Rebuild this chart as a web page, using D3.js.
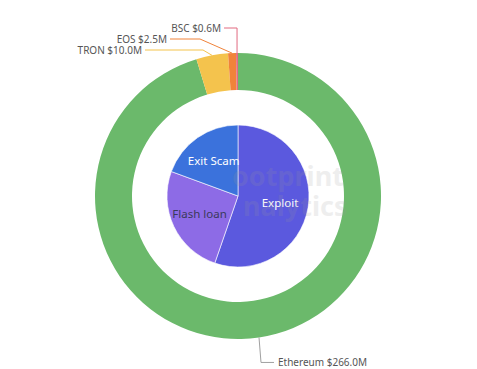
<!DOCTYPE html>
<html>
<head>
<meta charset="utf-8">
<script src="https://cdn.jsdelivr.net/npm/d3@7"></script>
<style>
  body { margin: 0; background: #fff; }
  text { font-family: "Noto Sans", "Open Sans", sans-serif; }
</style>
</head>
<body>
<div class="container"></div>
<script>
// inner pie: loss by attack type (share of total)
const typeNames = ["Exploit", "Flash loan", "Exit Scam"]
const typeValues = [55.3, 25.3, 19.4]
const typeColors = ["#5b59de", "#8d6be6", "#3b72dc"]
const typeTextColors = ["#ffffff", "#3a3a5a", "#ffffff"]

// outer ring: loss by chain ($M)
const chainNames = ["Ethereum", "TRON", "EOS", "BSC"]
const chainValues = [266.0, 10.0, 2.5, 0.6]
const chainColors = ["#6bb96b", "#f4c34d", "#f0833a", "#e26a80"]

const width = 477, height = 369
const cx = 238, cy = 196
const pieR = 71, ringIn = 106, ringOut = 143

const svg = d3.select(".container")
              .append("svg")
              .attr("width", width)
              .attr("height", height)

const g = svg.append("g").attr("transform", `translate(${cx},${cy})`)

const pie = d3.pie().sort(null).value(d => d)

// outer ring
const ringArc = d3.arc().innerRadius(ringIn).outerRadius(ringOut)
const ringData = pie(chainValues)
g.selectAll("path.ring")
  .data(ringData)
  .enter()
  .append("path")
  .attr("class", "ring")
  .attr("d", ringArc)
  .attr("fill", (d, i) => chainColors[i])

// inner pie
const pieArc = d3.arc().innerRadius(0).outerRadius(pieR)
const labelArc = d3.arc().innerRadius(pieR * 0.6).outerRadius(pieR * 0.6)
const pieData = pie(typeValues)
g.selectAll("path.slice")
  .data(pieData)
  .enter()
  .append("path")
  .attr("class", "slice")
  .attr("d", pieArc)
  .attr("fill", (d, i) => typeColors[i])
  .attr("stroke", "#fff")
  .attr("stroke-width", 0.6)

// faint watermark (under the labels)
const wm = svg.append("g").attr("opacity", 0.16).attr("fill", "#999")
wm.append("text").attr("x", 232).attr("y", 186)
  .attr("font-size", 27).attr("font-weight", "bold").text("ootprint")
wm.append("text").attr("x", 243).attr("y", 216)
  .attr("font-size", 27).attr("font-weight", "bold").text("nalytics")

g.selectAll("text.slice-label")
  .data(pieData)
  .enter()
  .append("text")
  .attr("class", "slice-label")
  .attr("transform", d => `translate(${labelArc.centroid(d)})`)
  .attr("text-anchor", "middle")
  .attr("dy", "0.35em")
  .attr("font-size", 11.5)
  .attr("fill", (d, i) => typeTextColors[i])
  .text((d, i) => typeNames[i])

// ring labels with leader lines
const edgePoint = (d) => {
  const a = (d.startAngle + d.endAngle) / 2
  return [Math.sin(a) * ringOut, -Math.cos(a) * ringOut]
}

// small slices at the top are stacked upwards on the left
const stackTop = -ringOut - 25
const topLayout = { "BSC": { row: 0, elbow: 0, gap: 16 },
                    "EOS": { row: 1, elbow: -38, gap: 33 },
                    "TRON": { row: 2, elbow: -35, gap: 61 } }

ringData.forEach((d, i) => {
  const name = chainNames[i]
  const label = `${name} $${chainValues[i].toFixed(1)}M`
  const p1 = edgePoint(d)
  let pts, tx, ty, anchor
  if (topLayout[name]) {
    const L = topLayout[name]
    ty = stackTop + L.row * 11
    const ex = L.elbow === 0 ? p1[0] : L.elbow
    pts = [p1, [ex, ty], [ex - L.gap + 3, ty]]
    tx = ex - L.gap
    anchor = "end"
  } else {
    ty = p1[1] + 25
    const ex = p1[0] + 2
    pts = [p1, [ex, ty], [ex + 13, ty]]
    tx = ex + 17
    anchor = "start"
  }
  g.append("path")
    .attr("d", d3.line()(pts))
    .attr("fill", "none")
    .attr("stroke", name === "Ethereum" ? "#a0a0a0" : chainColors[i])
    .attr("stroke-width", 1)
  g.append("text")
    .attr("x", tx)
    .attr("y", ty)
    .attr("dy", "0.35em")
    .attr("text-anchor", anchor)
    .attr("font-size", 10)
    .attr("fill", "#555")
    .text(label)
})
</script>
</body>
</html>
